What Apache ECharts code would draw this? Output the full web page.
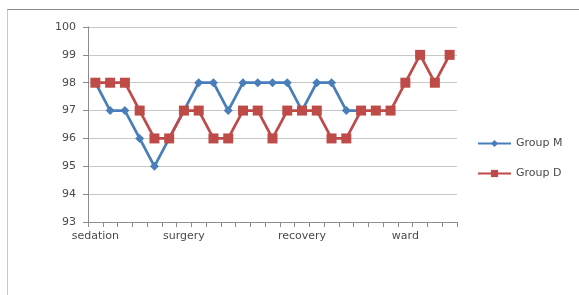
<!DOCTYPE html>
<html lang="en">
<head>
    <meta charset="UTF-8">
    <title>Group M / Group D</title>
    <script src="https://cdn.jsdelivr.net/npm/echarts@6/dist/echarts.min.js"></script>
    <style>
        body { margin: 0; background: #fff; }
        #frame { position: absolute; left: 7px; top: 9px; width: 580px; height: 300px;
                 border-top: 1px solid #8c8c8c; border-left: 1px solid #c8c8c8; }
        #chart { position: absolute; left: 0; top: 0; width: 579px; height: 295px; }
    </style>
</head>
<body>
<div id="frame"></div>
<div id="chart"></div>
<script type="text/javascript">
    // 25 time points, only four of them carry a phase label
    var categories = ['sedation', '', '', '', '', '', 'surgery', '', '', '', '', '', '', '', 'recovery', '', '', '', '', '', '', 'ward', '', '', ''];
    var groupM = [98, 97, 97, 96, 95, 96, 97, 98, 98, 97, 98, 98, 98, 98, 97, 98, 98, 97, 97];
    var groupD = [98, 98, 98, 97, 96, 96, 97, 97, 96, 96, 97, 97, 96, 97, 97, 97, 96, 96, 97, 97, 97, 98, 99, 98, 99];
    var yMin = 93, yMax = 100, yStep = 1;

    var chart = echarts.init(document.getElementById('chart'));
    var font = 'DejaVu Sans';

    var option = {
        animation: false,
        grid: { left: 88, right: 122, top: 27, bottom: 73 },
        legend: {
            orient: 'vertical',
            left: 472,
            top: 133,
            itemWidth: 33,
            itemHeight: 9,
            itemGap: 19,
            textStyle: { color: '#4a4a4a', fontSize: 11, fontFamily: font },
            data: ['Group M', 'Group D']
        },
        xAxis: {
            type: 'category',
            data: categories,
            boundaryGap: true,
            axisLine: { lineStyle: { color: '#8c8c8c', width: 1 } },
            axisTick: { show: true, interval: 0, length: 5, lineStyle: { color: '#8c8c8c' } },
            axisLabel: { interval: 0, color: '#4a4a4a', fontSize: 11, fontFamily: font, margin: 9 },
            splitLine: { show: false }
        },
        yAxis: {
            type: 'value',
            min: yMin,
            max: yMax,
            interval: yStep,
            axisLine: { show: true, lineStyle: { color: '#8c8c8c', width: 1 } },
            axisTick: { show: true, length: 5, inside: false, lineStyle: { color: '#8c8c8c' } },
            axisLabel: { color: '#4a4a4a', fontSize: 11, fontFamily: font, margin: 12 },
            splitLine: { lineStyle: { color: '#c8c8c8', width: 1 } }
        },
        series: [
            {
                name: 'Group M',
                type: 'line',
                data: groupM,
                symbol: 'diamond',
                symbolSize: 9,
                showAllSymbol: true,
                lineStyle: { color: '#4a7ebb', width: 2.75 },
                itemStyle: { color: '#4a7ebb' }
            },
            {
                name: 'Group D',
                type: 'line',
                data: groupD,
                symbol: 'rect',
                symbolSize: 10,
                showAllSymbol: true,
                lineStyle: { color: '#be4b48', width: 2.75 },
                itemStyle: { color: '#be4b48' }
            }
        ]
    };

    chart.setOption(option);
</script>
</body>
</html>
